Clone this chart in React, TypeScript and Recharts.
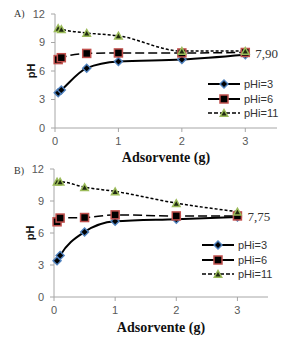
import { LineChart, Line, XAxis, YAxis, Legend, ReferenceDot, Label } from "recharts";

const adsorvente = [0.05, 0.1, 0.5, 1, 2, 3];
const phA3 = [3.7, 4.0, 6.3, 7.0, 7.2, 7.7];
const phA6 = [7.2, 7.4, 7.85, 7.9, 7.9, 7.95];
const phA11 = [10.5, 10.4, 10.0, 9.7, 8.1, 8.1];
const phB3 = [3.4, 3.9, 6.1, 7.1, 7.3, 7.5];
const phB6 = [7.05, 7.4, 7.45, 7.7, 7.6, 7.6];
const phB11 = [10.8, 10.8, 10.3, 9.9, 8.8, 8.0];
const xTicks = [0, 1, 2, 3];
const yTicks = [0, 3, 6, 9, 12];
const seriesNames = ["pHi=3", "pHi=6", "pHi=11"];

const sans = '"Liberation Sans", Arial, sans-serif';
const serif = '"Liberation Serif", "Times New Roman", serif';
const axisGray = "#a6a6a6";
const tickGray = "#595959";

function Diamond({ cx, cy }: { cx: number; cy: number }) {
  return (
    <g>
      <polygon
        points={`${cx},${cy - 5} ${cx + 5},${cy} ${cx},${cy + 5} ${cx - 5},${cy}`}
        fill="#4f81bd"
      />
      <polygon
        points={`${cx},${cy - 3} ${cx + 3},${cy} ${cx},${cy + 3} ${cx - 3},${cy}`}
        fill="#000"
      />
    </g>
  );
}

function Square({ cx, cy }: { cx: number; cy: number }) {
  return <rect x={cx - 4} y={cy - 4} width={8} height={8} fill="#000" stroke="#c0504d" strokeWidth={1.5} />;
}

function Triangle({ cx, cy }: { cx: number; cy: number }) {
  return (
    <g>
      <polygon points={`${cx},${cy - 5} ${cx + 5},${cy + 4} ${cx - 5},${cy + 4}`} fill="#9bbb59" />
      <polygon points={`${cx},${cy - 2} ${cx + 2.5},${cy + 2.5} ${cx - 2.5},${cy + 2.5}`} fill="#1f2a10" />
    </g>
  );
}

const markers = [Diamond, Square, Triangle];

function dotFor(i: number) {
  const M = markers[i];
  return (p: any) => (
    <g key={`d${i}-${p.index}`}>
      <M cx={p.cx} cy={p.cy} />
    </g>
  );
}

function LegendBox() {
  return (
    <div style={{ fontFamily: sans, fontSize: 11, color: "#333" }}>
      {seriesNames.map((n, i) => {
        const M = markers[i];
        return (
          <div key={n} style={{ display: "flex", alignItems: "center", height: 14.5 }}>
            <svg width={34} height={12}>
              <line
                x1={0}
                y1={6}
                x2={32}
                y2={6}
                stroke="#000"
                strokeWidth={i === 2 ? 1.5 : 2}
                strokeDasharray={i === 2 ? "4 2" : undefined}
              />
              <M cx={16} cy={6} />
            </svg>
            <span style={{ marginLeft: 2 }}>{n}</span>
          </div>
        );
      })}
    </div>
  );
}

type PanelProps = {
  top: number;
  height: number;
  margin: { top: number; right: number; left: number; bottom: number };
  xAxisHeight: number;
  labelOffset: number;
  s3: number[];
  s6: number[];
  s11: number[];
  note: string;
  noteY: number;
  legendPos: { left: number; top: number };
};

function Panel({ top, height, margin, xAxisHeight, labelOffset, s3, s6, s11, note, noteY, legendPos }: PanelProps) {
  const data = adsorvente.map((x, i) => ({ x, a: s3[i], b: s6[i], c: s11[i] }));
  return (
    <div style={{ position: "absolute", left: 0, top }}>
      <LineChart width={295} height={height} data={data} margin={margin}>
        <XAxis
          dataKey="x"
          type="number"
          domain={[0, 3.5]}
          ticks={xTicks}
          height={xAxisHeight}
          stroke={axisGray}
          tickSize={4}
          tickMargin={5}
          tick={{ fill: tickGray, fontSize: 11, fontFamily: sans }}
        >
          <Label
            value="Adsorvente (g)"
            position="insideBottom"
            offset={labelOffset}
            style={{ fontFamily: serif, fontWeight: "bold", fontSize: 14, fill: "#111" }}
          />
        </XAxis>
        <YAxis
          type="number"
          domain={[0, 12]}
          ticks={yTicks}
          width={35}
          stroke={axisGray}
          tickSize={4}
          tickMargin={6}
          tick={{ fill: tickGray, fontSize: 11, fontFamily: sans }}
        >
          <Label
            value="pH"
            position="center"
            angle={-90}
            dx={-6}
            style={{ fontFamily: sans, fontWeight: "bold", fontSize: 11, fill: "#111" }}
          />
        </YAxis>
        <Legend
          verticalAlign="middle"
          layout="horizontal"
          align="center"
          content={() => <LegendBox />}
          wrapperStyle={{ left: legendPos.left, top: legendPos.top, width: 90, height: 45 }}
        />
        <Line
          dataKey="a"
          name={seriesNames[0]}
          type="monotone"
          stroke="#000"
          strokeWidth={2}
          dot={dotFor(0)}
          isAnimationActive={false}
        />
        <Line
          dataKey="b"
          name={seriesNames[1]}
          type="monotone"
          stroke="#000"
          strokeWidth={1.5}
          strokeDasharray="9 4"
          dot={dotFor(1)}
          isAnimationActive={false}
        />
        <Line
          dataKey="c"
          name={seriesNames[2]}
          type="monotone"
          stroke="#000"
          strokeWidth={1.5}
          strokeDasharray="3 2"
          dot={dotFor(2)}
          isAnimationActive={false}
        />
        <ReferenceDot
          x={3}
          y={noteY}
          r={0}
          fill="none"
          stroke="none"
          label={{
            value: note,
            position: "right",
            offset: 10,
            style: { fontFamily: serif, fontSize: 13, fill: "#333" },
          }}
        />
      </LineChart>
    </div>
  );
}

export default function App() {
  return (
    <div style={{ position: "absolute", left: 0, top: 0, width: 295, height: 341, background: "#fff" }}>
      <Panel
        top={0}
        height={166}
        margin={{ top: 14, right: 18, left: 20, bottom: 0 }}
        xAxisHeight={38}
        labelOffset={4}
        s3={phA3}
        s6={phA6}
        s11={phA11}
        note="7,90"
        noteY={7.9}
        legendPos={{ left: 208, top: 77 }}
      />
      <Panel
        top={158}
        height={183}
        margin={{ top: 11, right: 27, left: 19, bottom: 0 }}
        xAxisHeight={44}
        labelOffset={9}
        s3={phB3}
        s6={phB6}
        s11={phB11}
        note="7,75"
        noteY={7.6}
        legendPos={{ left: 202, top: 238 - 158 }}
      />
      <span style={{ position: "absolute", left: 14, top: 8, fontFamily: serif, fontSize: 10, color: "#333" }}>A)</span>
      <span style={{ position: "absolute", left: 14, top: 165, fontFamily: serif, fontSize: 10, color: "#333" }}>B)</span>
    </div>
  );
}
